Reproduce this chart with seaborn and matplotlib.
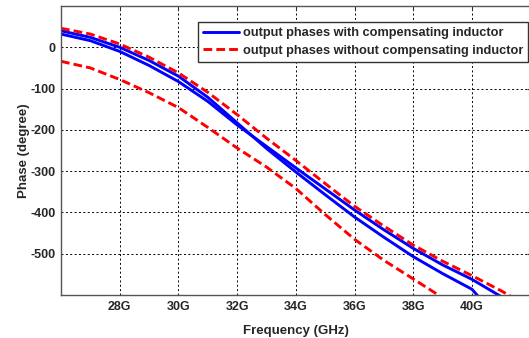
import matplotlib
matplotlib.use("Agg")
import matplotlib.pyplot as plt
import seaborn as sns
import pandas as pd

# ---- data ----
freq_blue_a = [26, 27, 28, 29, 30, 31, 32, 33, 34, 35, 36, 37, 38, 39, 40, 40.2]
phase_blue_a = [40, 24, 0, -32, -70, -121, -183, -245, -302, -357, -411, -460, -507, -548, -586, -602]

freq_blue_b = [26, 27, 28, 29, 30, 31, 32, 33, 34, 35, 36, 37, 38, 39, 40, 41]
phase_blue_b = [32, 16, -10, -44, -83, -131, -188, -240, -292, -343, -394, -442, -487, -527, -562, -604]

freq_red_a = [26, 27, 28, 29, 30, 31, 32, 33, 34, 35, 36, 37, 38, 39, 40, 41, 41.3]
phase_red_a = [46, 32, 8, -24, -62, -109, -163, -220, -274, -330, -385, -433, -479, -518, -553, -590, -602]

freq_red_b = [26, 27, 28, 29, 30, 31, 32, 33, 34, 35, 36, 37, 38, 38.9]
phase_red_b = [-34, -50, -78, -110, -146, -194, -244, -290, -342, -405, -465, -516, -561, -602]

label_with = "output phases with compensating inductor"
label_without = "output phases without compensating inductor"

x_ticks = [28, 30, 32, 34, 36, 38, 40]
x_tick_labels = ["28G", "30G", "32G", "34G", "36G", "38G", "40G"]
y_ticks = [0, -100, -200, -300, -400, -500]
y_tick_labels = ["0", "-100", "-200", "-300", "-400", "-500"]

# ---- plot ----
sns.set_style("white")
plt.rcParams["font.family"] = ["Liberation Sans", "DejaVu Sans"]
plt.rcParams["font.weight"] = "bold"

W, H = 529, 338
fig = plt.figure(figsize=(W / 100, H / 100), dpi=100)
ax = fig.add_axes([61 / W, 1 - 295 / H, 469.6 / W, 289 / H])

curves = [
    (freq_blue_a, phase_blue_a, "blue", "-", label_with),
    (freq_blue_b, phase_blue_b, "blue", "-", None),
    (freq_red_a, phase_red_a, "red", "--", label_without),
    (freq_red_b, phase_red_b, "red", "--", None),
]
for fx, fy, col, ls, lab in curves:
    df = pd.DataFrame({"f": fx, "p": fy})
    sns.lineplot(data=df, x="f", y="p", color=col, linewidth=2.1,
                 sort=False, ax=ax, label=lab, legend=False)
for ln in ax.get_lines():
    if ln.get_color() == "red":
        ln.set_dashes((3, 1.4))

ax.set_xlim(26, 42)
ax.set_ylim(-600, 100)
ax.set_xticks(x_ticks)
ax.set_xticklabels(x_tick_labels, fontsize=9, fontweight="bold")
ax.set_yticks(y_ticks)
ax.set_yticklabels(y_tick_labels, fontsize=9, fontweight="bold")
ax.tick_params(direction="in", length=3, width=0.8, color="#333333", pad=4,
               top=True, right=True)
ax.grid(True, color="black", linestyle=(0, (2, 2.5)), linewidth=0.7)

for s in ax.spines.values():
    s.set_color("#555555")
    s.set_linewidth(1.0)

ax.set_xlabel("Frequency (GHz)", fontsize=9.5, fontweight="bold", labelpad=9)
ax.set_ylabel("Phase (degree)", fontsize=9.5, fontweight="bold", labelpad=0)

leg = ax.legend(loc="upper right", bbox_to_anchor=(528 / W, 1 - 22 / H),
                bbox_transform=fig.transFigure,
                frameon=True, fancybox=False, framealpha=1, edgecolor="#333333",
                prop={"size": 9.2, "weight": "bold"}, handlelength=2.8,
                handletextpad=0.3, borderpad=0.4, labelspacing=0.45,
                borderaxespad=0)
leg.get_frame().set_linewidth(1.0)

fig.savefig("out.png", dpi=100)
